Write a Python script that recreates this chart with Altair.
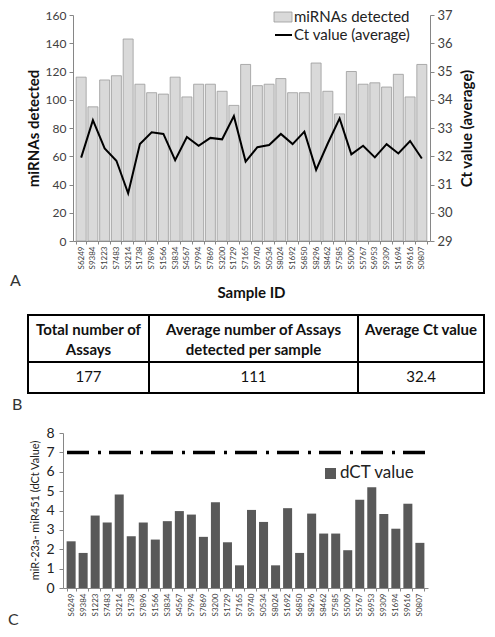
import altair as alt
import pandas as pd

# ---------------- data ----------------
samples = ["S6249", "S9384", "S1223", "S7483", "S3214", "S1738", "S7896", "S1566",
           "S3834", "S4567", "S7994", "S7869", "S3200", "S1729", "S7165", "S9740",
           "S0534", "S8024", "S1692", "S6850", "S8296", "S8462", "S7585", "S5009",
           "S5767", "S6953", "S9309", "S1694", "S9616", "S0807"]
mirnas_detected = [116, 95, 114, 117, 143, 111, 105, 104, 116, 102, 111, 111, 106, 96, 125,
                   110, 111, 115, 105, 105, 126, 106, 90, 120, 111, 112, 109, 118, 102, 125]
ct_average = [31.95, 33.28, 32.28, 31.84, 30.69, 32.43, 32.85, 32.79, 31.86, 32.68,
              32.37, 32.65, 32.60, 33.42, 31.81, 32.32, 32.40, 32.79, 32.43, 32.87,
              31.52, 32.46, 33.34, 32.07, 32.37, 31.96, 32.43, 32.10, 32.54, 31.92]
dct_value = [2.41, 1.81, 3.74, 3.38, 4.83, 2.67, 3.38, 2.50, 3.45, 3.97, 3.79, 2.64, 4.43,
             2.36, 1.17, 4.03, 3.41, 1.17, 4.12, 1.81, 3.84, 2.81, 2.81, 1.95, 4.56, 5.20,
             3.82, 3.06, 4.35, 2.33]
dct_threshold = [7]
left_ticks = [0, 20, 40, 60, 80, 100, 120, 140, 160]
right_ticks = [29, 30, 31, 32, 33, 34, 35, 36, 37]
bottom_ticks = [0, 1, 2, 3, 4, 5, 6, 7, 8]
legend_top = ["miRNAs detected", "Ct value (average)"]
legend_bottom = ["dCT value"]
table_headers = ["Total number of\nAssays", "Average number of Assays\ndetected per sample", "Average Ct value"]
table_values = ["177", "111", "32.4"]
panel_labels = ["A", "B", "C"]

FONT = "Lato"
AX = "#868686"
LAB = "#404040"

df = pd.DataFrame({"sample": samples, "mirnas": mirnas_detected,
                   "ct": ct_average, "dct": dct_value})
thr = pd.DataFrame({"dct": dct_threshold})
one = pd.DataFrame({"k": [0]})


def anchor(x, y):
    return alt.Chart(one).mark_rule(strokeOpacity=0, strokeWidth=0).encode(
        x=alt.value(x), y=alt.value(y), y2=alt.value(y + 1))


def label(txt, x, y, size=15, weight="normal", align="left", color="#222222"):
    return alt.Chart(one).mark_text(align=align, baseline="middle", fontSize=size,
                                    fontWeight=weight, color=color, font=FONT).encode(
        x=alt.value(x), y=alt.value(y), text=alt.value(txt))


# ---------------- panel A ----------------
W1, H1 = 357, 226
xsc1 = alt.Scale(paddingInner=0.15, paddingOuter=0.27)
xax1 = alt.Axis(title="Sample ID", labelAngle=270, labelFontSize=8, labelColor=LAB,
                tickSize=3, tickBand="extent", tickColor=AX, domainColor=AX, labelPadding=2,
                titleFontSize=15, titleFontWeight="bold", titleColor="#111111",
                titleX=178, titleY=51, titleBaseline="middle")

bars1 = alt.Chart(df).mark_bar(fill="#d9d9d9", stroke="#9a9a9a", strokeWidth=0.8).encode(
    x=alt.X("sample:N", sort=samples, scale=xsc1, axis=xax1),
    y=alt.Y("mirnas:Q", scale=alt.Scale(domain=[0, 160], nice=False),
            axis=alt.Axis(title="miRNAs detected", values=left_ticks, grid=False,
                          tickSize=4, tickColor=AX, domainColor=AX, labelColor=LAB,
                          labelFontSize=12, labelPadding=3, labelOverlap=False,
                          titleFontSize=15, titleFontWeight="bold", titleColor="#111111",
                          titleX=-40, titleY=113, titleAngle=270, titleBaseline="middle")))

line1 = alt.Chart(df).mark_line(color="black", strokeWidth=2).encode(
    x=alt.X("sample:N", sort=samples, scale=xsc1, axis=xax1),
    y=alt.Y("ct:Q", scale=alt.Scale(domain=[29, 37], nice=False),
            axis=alt.Axis(orient="right", title="Ct value (average)", values=right_ticks,
                          grid=False, tickSize=4, tickColor=AX, domainColor=AX,
                          labelColor=LAB, labelFontSize=13, labelPadding=3, labelOverlap=False,
                          titleFontSize=15, titleFontWeight="bold", titleColor="#111111",
                          titleX=36, titleY=113, titleAngle=270, titleBaseline="middle")))

leg_rect1 = alt.Chart(one).mark_rect(fill="#d9d9d9", stroke="#9a9a9a", strokeWidth=0.8).encode(
    x=alt.value(201), x2=alt.value(219), y=alt.value(-3), y2=alt.value(7))
leg_line1 = alt.Chart(one).mark_rule(color="black", strokeWidth=2).encode(
    x=alt.value(202), x2=alt.value(219), y=alt.value(20))

panelA = alt.layer(
    bars1, line1, leg_rect1, leg_line1,
    label(legend_top[0], 221, 2, size=15),
    label(legend_top[1], 221, 20, size=15),
    label(panel_labels[0], -63, 266, size=16, color="#333333"),
    anchor(-65, -7),
).resolve_scale(y="independent").properties(width=W1, height=H1)

# ---------------- panel B (table) ----------------
# common origin x is the left axis of panel A; the table starts 45 px to its left
TX0, TX1, TH = -45, 411, 78
border = alt.Chart(one).mark_rect(fillOpacity=0, stroke="black", strokeWidth=2).encode(
    x=alt.value(TX0), x2=alt.value(TX1), y=alt.value(0), y2=alt.value(TH))
v1 = alt.Chart(one).mark_rule(color="black", strokeWidth=2).encode(
    x=alt.value(76), y=alt.value(0), y2=alt.value(TH))
v2 = alt.Chart(one).mark_rule(color="black", strokeWidth=2).encode(
    x=alt.value(285), y=alt.value(0), y2=alt.value(TH))
h1 = alt.Chart(one).mark_rule(color="black", strokeWidth=2).encode(
    x=alt.value(TX0), x2=alt.value(TX1), y=alt.value(47))


def cell(txt, x, y, weight):
    return alt.Chart(one).mark_text(align="center", baseline="alphabetic", fontSize=15,
                                    fontWeight=weight, lineBreak="\n", lineHeight=20,
                                    color="#111111", font=FONT).encode(
        x=alt.value(x), y=alt.value(y), text=alt.value(txt))


col_centers = [15.5, 180.5, 348]
table_layers = [border, v1, v2, h1]
for i in range(3):
    table_layers.append(cell(table_headers[i], col_centers[i], 20, "bold"))
    table_layers.append(cell(table_values[i], col_centers[i], 67, "normal"))
table_layers.append(label(panel_labels[1], -61, 90, size=16, color="#333333"))
panelB = alt.layer(*table_layers).properties(width=W1, height=44)

# ---------------- panel C ----------------
W3, H3 = 355, 155
xsc3 = alt.Scale(paddingInner=0.25, paddingOuter=0.3, range=[-10, 355])
ysc3 = alt.Scale(domain=[0, 8], nice=False)
yax3 = alt.Axis(title="miR-23a- miR451 (dCt Value)", values=bottom_ticks, grid=False,
                offset=10, tickSize=4, tickColor=AX, domainColor=AX,
                labelColor="#222222", labelFontSize=14, labelPadding=5,
                labelOverlap=False,
                titleFontSize=11, titleFontWeight="normal", titleColor="#222222",
                titleX=-28, titleY=77, titleAngle=270, titleBaseline="middle")
bars3 = alt.Chart(df).mark_bar(color="#595959").encode(
    x=alt.X("sample:N", sort=samples, scale=xsc3,
            axis=alt.Axis(title=None, labelAngle=270, labelFontSize=8, labelColor=LAB,
                          tickSize=3, tickBand="extent", tickColor=AX, domainColor=AX,
                          labelPadding=2)),
    y=alt.Y("dct:Q", scale=ysc3, axis=yax3))
rule7 = alt.Chart(thr).mark_rule(
    color="black", strokeWidth=3.5, strokeDash=[22, 9, 3, 8]).encode(
    y=alt.Y("dct:Q", scale=ysc3, axis=yax3), x=alt.value(-6), x2=alt.value(W3))
leg_sq = alt.Chart(one).mark_rect(color="#595959").encode(
    x=alt.value(252), x2=alt.value(263), y=alt.value(35), y2=alt.value(46))

panelC = alt.layer(
    bars3, rule7, leg_sq,
    label(legend_bottom[0], 267, 40, size=17),
    label(panel_labels[2], -65, 187, size=16, color="#333333"),
).properties(width=W3, height=H3)

chart = alt.vconcat(panelA, panelB, panelC, spacing=74, bounds="flush").properties(
    padding=0).configure(font=FONT).configure_view(strokeOpacity=0)

chart.save("out.html", embed_options={"renderer": "svg", "actions": False})
